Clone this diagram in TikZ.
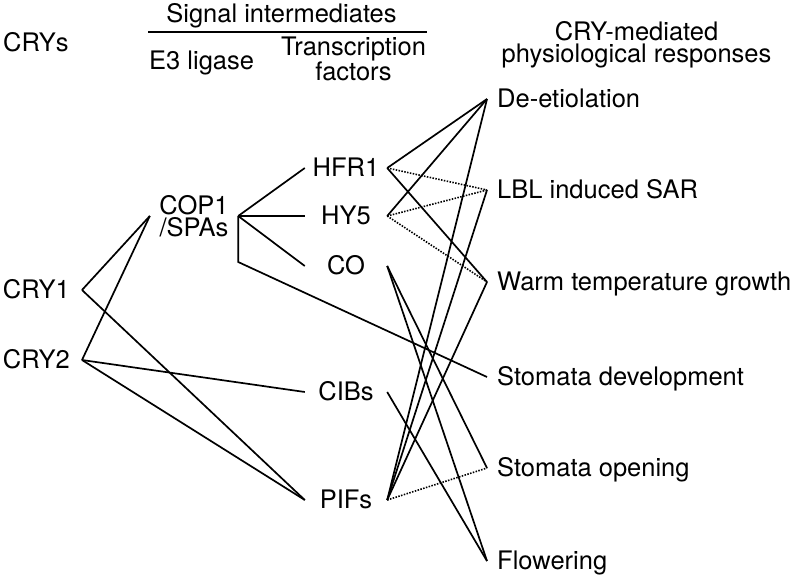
\documentclass[tikz,border=0pt]{standalone}
\usepackage{fontspec}
\setmainfont{TeX Gyre Heros}
\usepackage{tikz}

\begin{document}
\begin{tikzpicture}[
    x=1pt, y=-1pt,
    every node/.style={font=\fontsize{25.5}{23}\selectfont, inner sep=0pt},
    head/.style={align=center},
    cry/.style={anchor=east, inner xsep=12pt, text height=17.5pt, text depth=0pt},
    hub/.style={align=center, minimum width=88pt, font=\fontsize{25.5}{22}\selectfont},
    tf/.style={minimum width=82pt, text height=17.5pt, text depth=0pt},
    resp/.style={anchor=west, inner xsep=10pt, text height=17.5pt, text depth=0pt},
    link/.style={line width=1.7pt},
    weak/.style={line width=1.6pt, dash pattern=on 1.5pt off 1.4pt}
]
    \useasboundingbox (0,0) rectangle (800,583);

    \node[anchor=base west] (crys) at (3,52) {CRYs};
    \node[anchor=base] (signal) at (281.5,23) {Signal intermediates};
    \draw[line width=2.8pt] (148,32) -- (427,32);
    \node[anchor=base west] (e3) at (149,70) {E3 ligase};
    \node[head] (tfhead) at (353.5,59) {Transcription\\factors};
    \node[head, font=\fontsize{25.5}{22}\selectfont] (resphead) at (636.5,44.5) {CRY-mediated\\physiological responses};

    \node[cry] (cry1) at (82,290) {CRY1};
    \node[cry] (cry2) at (82,360) {CRY2};

    \node[hub] (cop1) at (194,216) {COP1\\/SPAs};
    \coordinate (stem) at (cop1.east |- 0,262);

    \node[tf] (hfr1) at (346,168) {HFR1};
    \node[tf] (hy5) at (346,216) {HY5};
    \node[tf] (co) at (346,266) {CO};
    \node[tf] (cibs) at (346,392) {CIBs};
    \node[tf] (pifs) at (346,500) {PIFs};

    \node[resp] (deet) at (487,99) {De-etiolation};
    \node[resp] (lbl) at (487,190) {LBL induced SAR};
    \node[resp] (warm) at (487,282) {Warm temperature growth};
    \node[resp] (stomdev) at (487,377) {Stomata development};
    \node[resp] (stomopen) at (487,468) {Stomata opening};
    \node[resp] (flower) at (487,561) {Flowering};

    \draw[link] (cry1.east) -- (cop1.west);
    \draw[link] (cry1.east) -- (pifs.west);
    \draw[link] (cry2.east) -- (cop1.west);
    \draw[link] (cry2.east) -- (cibs.west);
    \draw[link] (cry2.east) -- (pifs.west);

    \draw[link] (cop1.east) -- (hfr1.west);
    \draw[link] (cop1.east) -- (hy5.west);
    \draw[link] (cop1.east) -- (co.west);
    \draw[link] (cop1.east) -- (stem) -- (stomdev.west);

    \draw[link] (hfr1.east) -- (deet.west);
    \draw[weak] (hfr1.east) -- (lbl.west);
    \draw[link] (hfr1.east) -- (warm.west);
    \draw[link] (hy5.east) -- (deet.west);
    \draw[weak] (hy5.east) -- (lbl.west);
    \draw[weak] (hy5.east) -- (warm.west);
    \draw[link] (co.east) -- (stomopen.west);
    \draw[link] (co.east) -- (flower.west);
    \draw[link] (cibs.east) -- (flower.west);
    \draw[link] (pifs.east) -- (deet.west);
    \draw[link] (pifs.east) -- (lbl.west);
    \draw[link] (pifs.east) -- (warm.west);
    \draw[weak] (pifs.east) -- (stomopen.west);
\end{tikzpicture}
\end{document}
